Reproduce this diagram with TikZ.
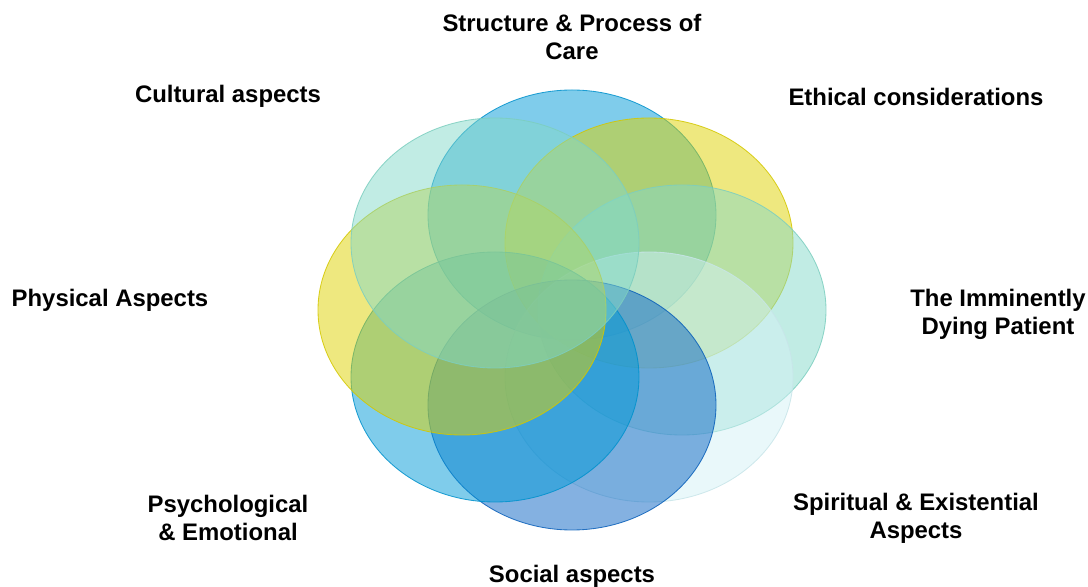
\documentclass[tikz,border=0pt]{standalone}
\usepackage{fontspec}
\setmainfont{Liberation Sans}
\definecolor{skyblue}{RGB}{0,153,215}
\definecolor{gold}{RGB}{222,210,0}
\definecolor{seafoam}{RGB}{131,217,201}
\definecolor{paleaqua}{RGB}{211,241,245}
\definecolor{deepblue}{RGB}{10,100,195}
\tikzset{
  petal/.style={fill=#1,draw=#1!95!black,fill opacity=0.5,draw opacity=0.85,line width=0.6pt},
  aspect/.style={font=\fontsize{17}{20}\selectfont\bfseries,align=center}
}
\begin{document}
\begin{tikzpicture}
    \useasboundingbox (-14.3,-6.925) rectangle (12.9,7.75);
    % eight overlapping ellipses, clockwise from the top
    \draw[petal=skyblue] (0,2.375) ellipse [x radius=3.6, y radius=3.125];
    \draw[petal=gold] (1.925,1.675) ellipse [x radius=3.6, y radius=3.125];
    \draw[petal=seafoam] (2.75,0) ellipse [x radius=3.6, y radius=3.125];
    \draw[petal=paleaqua] (1.925,-1.675) ellipse [x radius=3.6, y radius=3.125];
    \draw[petal=deepblue] (0,-2.375) ellipse [x radius=3.6, y radius=3.125];
    \draw[petal=skyblue] (-1.925,-1.675) ellipse [x radius=3.6, y radius=3.125];
    \draw[petal=gold] (-2.75,0) ellipse [x radius=3.6, y radius=3.125];
    \draw[petal=seafoam] (-1.925,1.675) ellipse [x radius=3.6, y radius=3.125];
    % labels
    \node[aspect] (structure) at (0,6.82) {Structure \& Process of\\Care};
    \node[aspect] (ethical) at (8.6,5.33) {Ethical considerations};
    \node[aspect] (dying) at (10.65,-0.12) {The Imminently\\Dying Patient};
    \node[aspect] (spiritual) at (8.6,-5.2) {Spiritual \& Existential\\Aspects};
    \node[aspect] (social) at (0,-6.66) {Social aspects};
    \node[aspect] (psych) at (-8.6,-5.2) {Psychological\\\& Emotional};
    \node[aspect] (physical) at (-11.55,0.23) {Physical Aspects};
    \node[aspect] (cultural) at (-8.6,5.33) {Cultural aspects};
\end{tikzpicture}
\end{document}
